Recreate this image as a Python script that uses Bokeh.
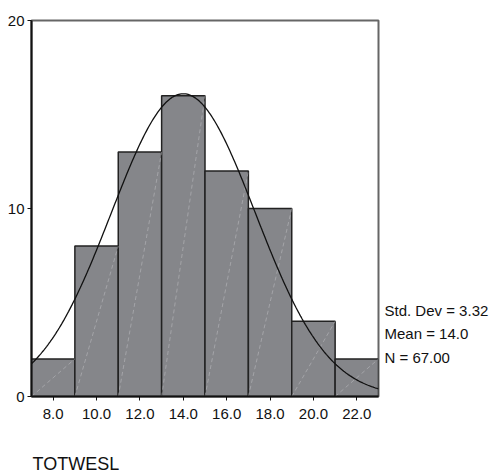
import numpy as np
from bokeh.plotting import figure
from bokeh.layouts import row, column
from bokeh.models import Range1d, FixedTicker, PrintfTickFormatter, ColumnDataSource
from bokeh.core.properties import value
from bokeh.embed import file_html
from bokeh.resources import INLINE

# Data
bin_left = [7, 9, 11, 13, 15, 17, 19, 21]
bin_right = [9, 11, 13, 15, 17, 19, 21, 23]
counts = [2, 8, 13, 16, 12, 10, 4, 2]
x_ticks = [8, 10, 12, 14, 16, 18, 20, 22]
y_ticks = [0, 10, 20]
mean = 14.0
std_dev = 3.32
n_total = 67
bin_width = 2
stats_lines = ["Std. Dev = 3.32", "Mean = 14.0", "N = 67.00"]
var_name = "TOTWESL"

FONT = "Liberation Sans"

p = figure(width=380, height=430, output_backend="svg", toolbar_location=None,
           x_range=Range1d(7, 23), y_range=Range1d(0, 20),
           min_border_left=31, min_border_right=2, min_border_top=20, min_border_bottom=34)
p.xgrid.visible = False
p.ygrid.visible = False
p.outline_line_color = "#666666"
p.outline_line_width = 2
p.background_fill_color = "white"
p.border_fill_color = "white"

src = ColumnDataSource(dict(left=bin_left, right=bin_right, top=counts, bottom=[0] * len(counts)))
p.quad(left="left", right="right", top="top", bottom="bottom", source=src,
       fill_color="#85868a", line_color="#222222", line_width=1.5)

# faint diagonal pattern lines inside bars
p.segment(x0="left", y0="bottom", x1="right", y1="top", source=src,
          line_color="#c4c4c8", line_width=0.7, line_alpha=0.7, line_dash="4 3")

# normal curve
xs = np.linspace(7, 23, 300)
ys = n_total * bin_width / (std_dev * np.sqrt(2 * np.pi)) * np.exp(-0.5 * ((xs - mean) / std_dev) ** 2)
p.line(xs, ys, line_color="#111111", line_width=1.3)

for ax in (p.xaxis[0], p.yaxis[0]):
    ax.axis_line_color = "#111111"
    ax.axis_line_width = 2
    ax.major_tick_line_color = "#111111"
    ax.major_tick_out = 4
    ax.major_tick_in = 0
    ax.minor_tick_line_color = None
    ax.major_label_text_font = FONT
    ax.major_label_text_font_size = "15px"
    ax.major_label_text_color = "#111111"

p.xaxis.ticker = FixedTicker(ticks=x_ticks)
p.xaxis.formatter = PrintfTickFormatter(format="%.1f")
p.xaxis.major_label_standoff = 8
p.yaxis.ticker = FixedTicker(ticks=y_ticks)
p.yaxis.major_label_standoff = 3


def blank(w, h, xr, yr):
    f = figure(width=w, height=h, output_backend="svg", toolbar_location=None,
               x_range=xr, y_range=yr, min_border=0)
    f.axis.visible = False
    f.grid.visible = False
    f.outline_line_color = None
    f.background_fill_color = "white"
    f.border_fill_color = "white"
    return f


# side panel with the statistics (coordinates in pixels from panel top-left)
side = blank(109, 430, Range1d(0, 109), Range1d(430, 0))
side.text(x=[4, 4, 4], y=[332, 358.5, 385], text=stats_lines,
          text_font=value(FONT), text_font_size="15px", text_baseline="middle",
          text_align="left", text_color="#111111")

# bottom strip with the variable name
bottom = blank(489, 44, Range1d(0, 489), Range1d(44, 0))
bottom.text(x=[32], y=[33], text=[var_name], text_font=value(FONT), text_font_size="18px",
            text_baseline="middle", text_align="left", text_color="#111111")

layout = column(row(p, side, spacing=0), bottom, spacing=0)

open("out.html", "w").write(file_html(layout, INLINE))
